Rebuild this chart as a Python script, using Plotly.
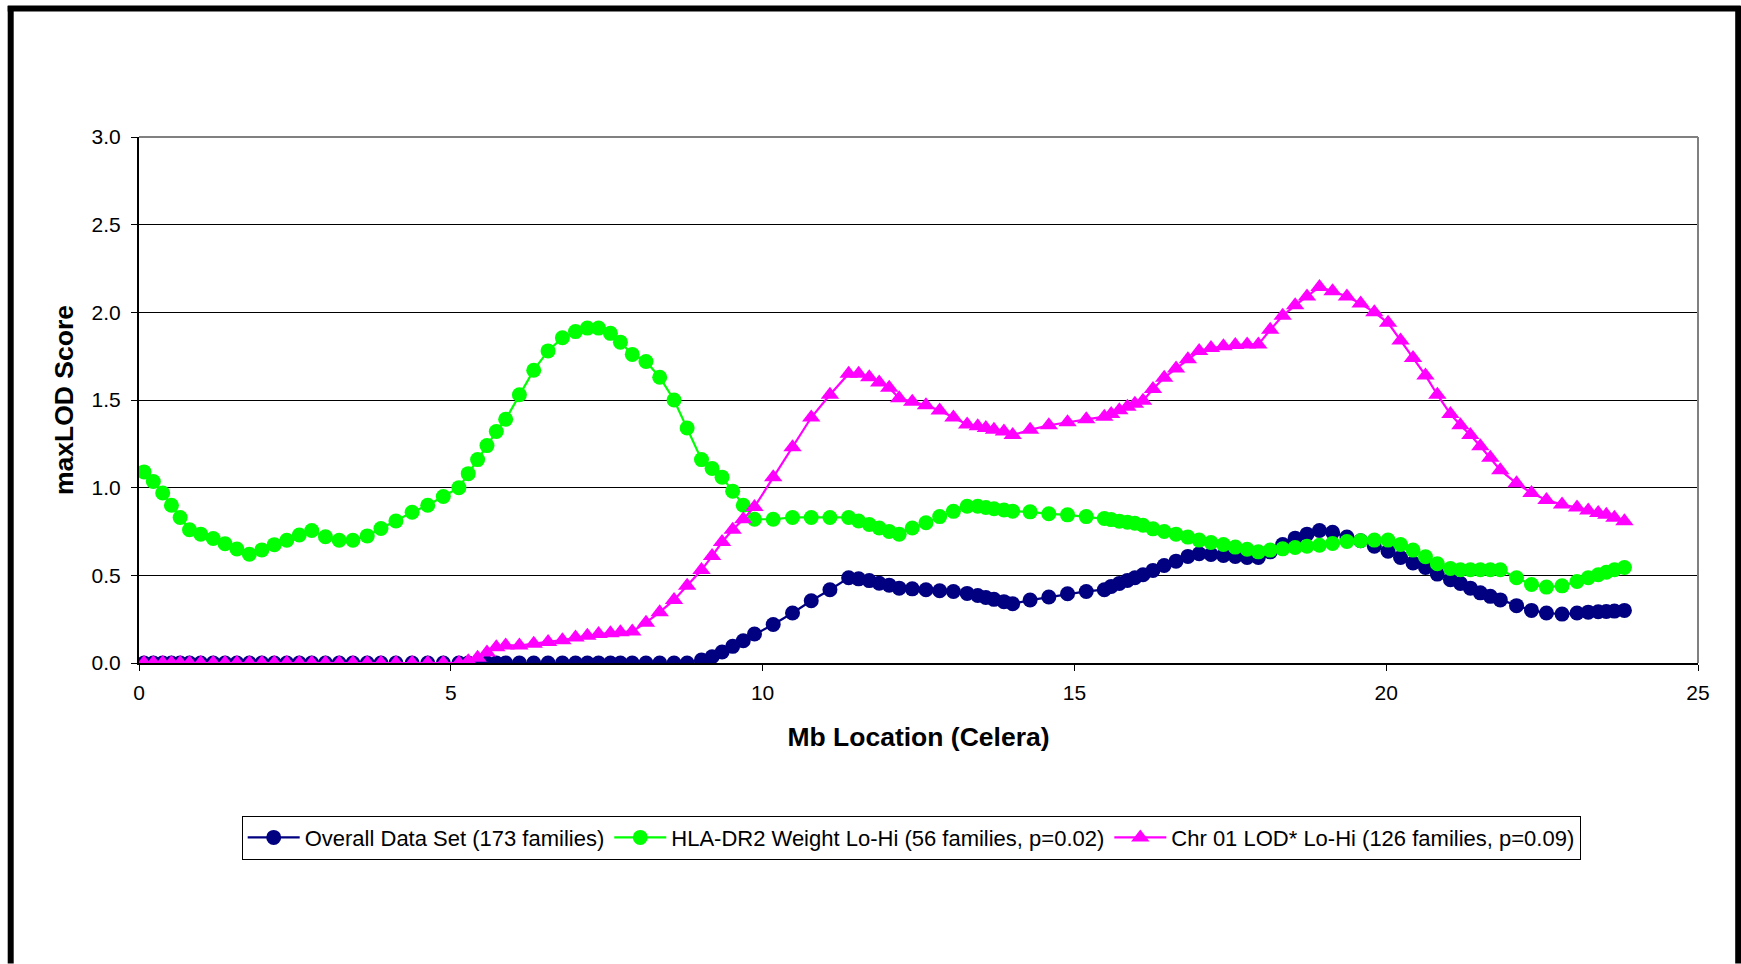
import plotly.graph_objects as go

x_mb = [0.08, 0.23, 0.38, 0.52, 0.66, 0.81, 0.99, 1.19, 1.38, 1.57,
        1.77, 1.97, 2.17, 2.37, 2.57, 2.77, 2.99, 3.21, 3.43, 3.66,
        3.88, 4.12, 4.38, 4.63, 4.88, 5.13, 5.28, 5.43, 5.58, 5.73,
        5.88, 6.10, 6.33, 6.56, 6.79, 7.00, 7.19, 7.37, 7.56, 7.72,
        7.91, 8.13, 8.35, 8.58, 8.79, 9.02, 9.19, 9.35, 9.52, 9.69,
        9.87, 10.17, 10.48, 10.78, 11.08, 11.38, 11.54, 11.71, 11.87, 12.03,
        12.19, 12.40, 12.62, 12.84, 13.06, 13.28, 13.45, 13.58, 13.71, 13.87,
        14.01, 14.29, 14.59, 14.89, 15.19, 15.48, 15.59, 15.72, 15.85, 15.97,
        16.10, 16.26, 16.44, 16.63, 16.82, 17.00, 17.19, 17.39, 17.58, 17.77,
        17.95, 18.14, 18.34, 18.54, 18.73, 18.93, 19.14, 19.37, 19.59, 19.81,
        20.03, 20.23, 20.43, 20.63, 20.82, 21.03, 21.19, 21.35, 21.51, 21.67,
        21.83, 22.09, 22.33, 22.57, 22.82, 23.06, 23.24, 23.40, 23.53, 23.66,
        23.82]

overall = [0, 0, 0, 0, 0, 0, 0, 0, 0, 0,
           0, 0, 0, 0, 0, 0, 0, 0, 0, 0,
           0, 0, 0, 0, 0, 0, 0, 0, 0, 0,
           0, 0, 0, 0, 0, 0, 0, 0, 0, 0,
           0, 0, 0, 0, 0, 0.017, 0.036, 0.063, 0.095, 0.127,
           0.165, 0.22, 0.285, 0.355, 0.418, 0.486, 0.48, 0.47, 0.455, 0.444,
           0.427, 0.423, 0.418, 0.412, 0.408, 0.397, 0.385, 0.374, 0.363, 0.35,
           0.338, 0.359, 0.376, 0.395, 0.408, 0.418, 0.437, 0.454, 0.471, 0.486,
           0.503, 0.528, 0.556, 0.581, 0.608, 0.623, 0.619, 0.613, 0.608, 0.602,
           0.602, 0.634, 0.676, 0.712, 0.735, 0.756, 0.746, 0.718, 0.697, 0.666,
           0.638, 0.602, 0.57, 0.545, 0.507, 0.475, 0.454, 0.427, 0.40, 0.38,
           0.36, 0.327, 0.30, 0.285, 0.279, 0.285, 0.29, 0.292, 0.294, 0.296,
           0.30]

hla_dr2 = [1.09, 1.035, 0.97, 0.90, 0.83, 0.76, 0.735, 0.71, 0.68, 0.65,
           0.62, 0.645, 0.675, 0.70, 0.73, 0.756, 0.72, 0.70, 0.70, 0.725,
           0.767, 0.81, 0.86, 0.90, 0.95, 1.00, 1.08, 1.16, 1.24, 1.32,
           1.39, 1.53, 1.67, 1.78, 1.855, 1.89, 1.91, 1.91, 1.88, 1.83,
           1.76, 1.72, 1.63, 1.50, 1.34, 1.16, 1.11, 1.06, 0.98, 0.90,
           0.82, 0.82, 0.83, 0.83, 0.83, 0.83, 0.81, 0.79, 0.77, 0.75,
           0.735, 0.77, 0.80, 0.835, 0.865, 0.894, 0.894, 0.887, 0.88, 0.873,
           0.866, 0.862, 0.851, 0.845, 0.835, 0.824, 0.818, 0.809, 0.803, 0.797,
           0.786, 0.765, 0.75, 0.735, 0.718, 0.701, 0.687, 0.676, 0.661, 0.649,
           0.634, 0.644, 0.651, 0.659, 0.666, 0.672, 0.682, 0.693, 0.697, 0.701,
           0.701, 0.676, 0.644, 0.606, 0.566, 0.539, 0.532, 0.532, 0.532, 0.532,
           0.532, 0.486, 0.448, 0.433, 0.44, 0.465, 0.486, 0.503, 0.518, 0.532,
           0.545]

chr01 = [0, 0, 0, 0, 0, 0, 0, 0, 0, 0,
         0, 0, 0, 0, 0, 0, 0, 0, 0, 0,
         0, 0, 0, 0, 0, 0, 0.01, 0.03, 0.06, 0.09,
         0.10, 0.10, 0.11, 0.12, 0.13, 0.145, 0.155, 0.165, 0.17, 0.175,
         0.18, 0.23, 0.29, 0.36, 0.44, 0.53, 0.61, 0.69, 0.76, 0.82,
         0.89, 1.06, 1.23, 1.40, 1.53, 1.65, 1.65, 1.63, 1.60, 1.57,
         1.51, 1.49, 1.47, 1.44, 1.40, 1.36, 1.35, 1.34, 1.33, 1.32,
         1.30, 1.33, 1.356, 1.373, 1.39, 1.405, 1.42, 1.441, 1.462, 1.479,
         1.496, 1.563, 1.627, 1.68, 1.733, 1.779, 1.796, 1.806, 1.813, 1.817,
         1.817, 1.90, 1.98, 2.04, 2.09, 2.145, 2.12, 2.09, 2.05, 2.00,
         1.94, 1.84, 1.74, 1.64, 1.53, 1.42, 1.356, 1.30, 1.236, 1.17,
         1.10, 1.025, 0.97, 0.93, 0.904, 0.887, 0.87, 0.856, 0.845, 0.828,
         0.809]

series_names = ["Overall Data Set (173 families)",
                "HLA-DR2 Weight Lo-Hi (56 families, p=0.02)",
                "Chr 01 LOD* Lo-Hi (126 families, p=0.09)"]

x_tick_vals = [0, 5, 10, 15, 20, 25]
y_tick_vals = [0.0, 0.5, 1.0, 1.5, 2.0, 2.5, 3.0]
y_tick_text = ["0.0", "0.5", "1.0", "1.5", "2.0", "2.5", "3.0"]

W, H = 1741, 964
L, R, T, B = 139.3, 1698.3, 137.0, 663.3
PW, PH = R - L, B - T

def px(xp):
    return (xp - L) / PW

def py(yp):
    return (B - yp) / PH

FONT = "Liberation Sans, Arial, sans-serif"

fig = go.Figure()
fig.add_trace(go.Scatter(x=x_mb, y=overall, name=series_names[0], mode="lines+markers",
                         line=dict(color="#000080", width=2.2),
                         marker=dict(symbol="circle", size=15, color="#000080")))
fig.add_trace(go.Scatter(x=x_mb, y=hla_dr2, name=series_names[1], mode="lines+markers",
                         line=dict(color="#00FF00", width=2.2),
                         marker=dict(symbol="circle", size=15, color="#00FF00")))
fig.add_trace(go.Scatter(x=x_mb, y=chr01, name=series_names[2], mode="lines+markers",
                         line=dict(color="#FF00FF", width=2.2),
                         marker=dict(symbol="triangle-up", size=16, color="#FF00FF")))

shapes = [
    dict(type="line", xref="paper", yref="paper", x0=0, x1=1, y0=1, y1=1,
         line=dict(color="#808080", width=2), layer="above"),
    dict(type="line", xref="paper", yref="paper", x0=1, x1=1, y0=0, y1=1,
         line=dict(color="#808080", width=2), layer="above"),
    dict(type="line", xref="paper", yref="paper", x0=px(8), x1=px(1741), y0=py(8.5), y1=py(8.5),
         line=dict(color="black", width=6)),
    dict(type="line", xref="paper", yref="paper", x0=px(11), x1=px(11), y0=py(6), y1=py(964),
         line=dict(color="black", width=6)),
    dict(type="line", xref="paper", yref="paper", x0=px(1738.5), x1=px(1738.5), y0=py(6), y1=py(964),
         line=dict(color="black", width=6)),
]

fig.update_layout(
    width=W, height=H,
    margin=dict(l=L, r=W - R, t=T, b=H - B, pad=0),
    paper_bgcolor="white", plot_bgcolor="white",
    font=dict(family=FONT, color="black", size=20),
    showlegend=True,
    legend=dict(orientation="h", x=px(242), y=py(816), xanchor="left", yanchor="top",
                bordercolor="black", borderwidth=1, bgcolor="white",
                font=dict(family=FONT, size=22, color="black"),
                itemwidth=52, tracegroupgap=0),
    shapes=shapes,
    xaxis=dict(range=[0, 25], tickmode="array", tickvals=x_tick_vals,
               showgrid=False, zeroline=False, showline=True, linecolor="black", linewidth=2,
               ticks="outside", ticklen=6, tickcolor="black", tickwidth=1,
               tickfont=dict(family=FONT, size=21), ticklabelstandoff=4,
               title=dict(text="<b>Mb Location (Celera)</b>", font=dict(family=FONT, size=26.5), standoff=24)),
    yaxis=dict(range=[0, 3], tickmode="array", tickvals=y_tick_vals, ticktext=y_tick_text,
               showgrid=True, gridcolor="black", gridwidth=1, zeroline=False,
               showline=True, linecolor="black", linewidth=2,
               ticks="outside", ticklen=6, tickcolor="black", tickwidth=1,
               tickfont=dict(family=FONT, size=21), ticklabelstandoff=6,
               title=dict(text="<b>maxLOD Score</b>", font=dict(family=FONT, size=26.5), standoff=10)),
)

fig.write_html("out.html")
